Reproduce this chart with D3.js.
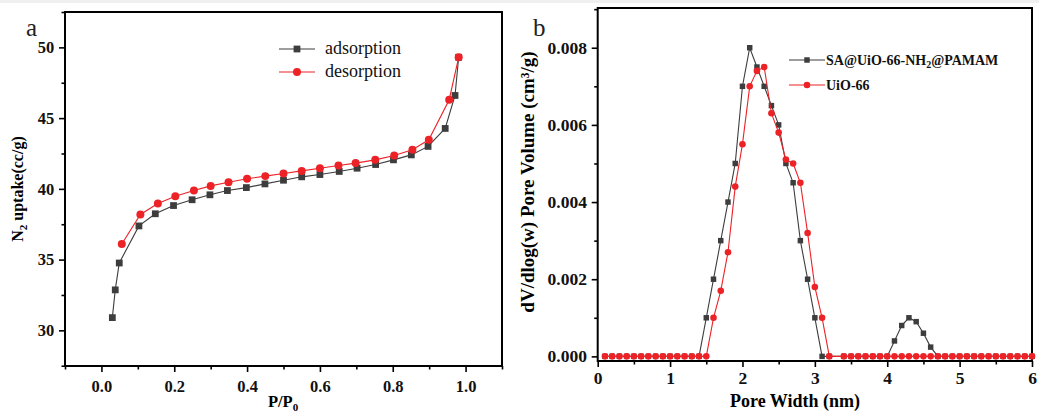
<!DOCTYPE html>
<html>
<head>
<meta charset="utf-8">
<script src="https://d3js.org/d3.v7.min.js"></script>
<style>
  body { margin: 0; background: #fff; }
  svg text { font-family: "Liberation Serif", "Times New Roman", serif; }
</style>
</head>
<body>
<div id="viz"></div>
<script>
// panel a: N2 isotherm
const adsP = [0.030, 0.038, 0.049, 0.103, 0.148, 0.198, 0.249, 0.298, 0.346, 0.398, 0.449, 0.500,
              0.550, 0.600, 0.653, 0.702, 0.753, 0.802, 0.851, 0.897, 0.944, 0.971, 0.981];
const adsV = [30.9, 32.86, 34.76, 37.38, 38.24, 38.82, 39.23, 39.58, 39.88, 40.09, 40.35, 40.61,
              40.85, 41.01, 41.23, 41.46, 41.72, 42.05, 42.4, 43.0, 44.27, 46.6, 49.3];
const desP = [0.981, 0.955, 0.899, 0.854, 0.804, 0.752, 0.698, 0.651, 0.600, 0.550, 0.500, 0.450,
              0.400, 0.349, 0.300, 0.254, 0.203, 0.155, 0.107, 0.056];
const desV = [49.3, 46.3, 43.47, 42.76, 42.36, 42.05, 41.82, 41.65, 41.46, 41.27, 41.08, 40.9,
              40.71, 40.47, 40.21, 39.88, 39.48, 38.97, 38.19, 36.1];
const aXTicks = [0.0, 0.2, 0.4, 0.6, 0.8, 1.0];
const aYTicks = [30, 35, 40, 45, 50];

// panel b: pore size distribution
const poreW = [0.1, 0.2, 0.3, 0.4, 0.5, 0.6, 0.7, 0.8, 0.9, 1.0, 1.1, 1.2, 1.3, 1.4, 1.5, 1.6, 1.7, 1.8, 1.9, 2.0,
               2.1, 2.2, 2.3, 2.4, 2.5, 2.6, 2.7, 2.8, 2.9, 3.0, 3.1, 3.2, 3.4, 3.5, 3.6, 3.7, 3.8, 3.9, 4.0,
               4.1, 4.2, 4.3, 4.4, 4.5, 4.6, 4.7, 4.8, 4.9, 5.0, 5.1, 5.2, 5.3, 5.4, 5.5, 5.6, 5.7, 5.8, 5.9, 6.0];
const saPamam = [0, 0, 0, 0, 0, 0, 0, 0, 0, 0, 0, 0, 0, 0, 0.001, 0.002, 0.003, 0.004, 0.005, 0.007,
                 0.008, 0.0075, 0.007, 0.0065, 0.006, 0.005, 0.0045, 0.003, 0.002, 0.001, 0, 0, 0, 0, 0, 0, 0, 0, 0,
                 0.0004, 0.0008, 0.001, 0.0009, 0.0006, 0.00024, 0, 0, 0, 0, 0, 0, 0, 0, 0, 0, 0, 0, 0, 0];
const uio66 = [0, 0, 0, 0, 0, 0, 0, 0, 0, 0, 0, 0, 0, 0, 0, 0.001, 0.0017, 0.0027, 0.0044, 0.0055,
               0.007, 0.0074, 0.0075, 0.0063, 0.0058, 0.0051, 0.005, 0.0045, 0.0032, 0.0018, 0.001, 0, 0, 0, 0, 0, 0, 0, 0,
               0, 0, 0, 0, 0, 0, 0, 0, 0, 0, 0, 0, 0, 0, 0, 0, 0, 0, 0, 0];
const bXTicks = [0, 1, 2, 3, 4, 5, 6];
const bYTicks = [0, 0.002, 0.004, 0.006, 0.008];

const BLACK = "#3d3d3d", RED = "#ec2227";

const svg = d3.select("#viz").append("svg").attr("width", 1039).attr("height", 416);
svg.append("rect").attr("width", 1039).attr("height", 416).attr("fill", "#fff");
svg.append("rect").attr("width", 1039).attr("height", 3).attr("fill", "#f0f0f0");

function frame(x, y, xTicks, xMinor, yTicks, yMinor, xFmt, yFmt, fs, xdy) {
  const [x0, x1] = x.range(), [y0, y1] = y.range();
  const g = svg.append("g");
  const xa = g.append("g").attr("transform", `translate(0,${y0})`)
    .call(d3.axisBottom(x).tickValues(xTicks).tickFormat(xFmt).tickSize(6).tickSizeOuter(0));
  g.append("g").attr("transform", `translate(0,${y0})`)
    .call(d3.axisBottom(x).tickValues(xMinor).tickFormat("").tickSize(3.5).tickSizeOuter(0));
  const ya = g.append("g").attr("transform", `translate(${x0},0)`)
    .call(d3.axisLeft(y).tickValues(yTicks).tickFormat(yFmt).tickSize(6).tickSizeOuter(0));
  g.append("g").attr("transform", `translate(${x0},0)`)
    .call(d3.axisLeft(y).tickValues(yMinor).tickFormat("").tickSize(3.5).tickSizeOuter(0));
  g.selectAll(".domain").remove();
  g.selectAll(".tick line").attr("stroke", "#000").attr("stroke-width", 1.6);
  g.selectAll(".tick text").attr("fill", "#111").attr("font-weight", "bold")
    .attr("font-family", "Liberation Serif, serif").attr("font-size", fs);
  xa.selectAll(".tick text").attr("dy", xdy);
  ya.selectAll(".tick text").attr("dx", "-0.1em");
  g.append("rect").attr("x", x0).attr("y", y1).attr("width", x1 - x0).attr("height", y0 - y1)
    .attr("fill", "none").attr("stroke", "#000").attr("stroke-width", 2);
  return g;
}

function series(g, x, y, xs, ys, color, shape, size) {
  const pts = xs.map((v, i) => [x(v), y(ys[i])]);
  g.append("path").attr("d", d3.line()(pts)).attr("fill", "none")
    .attr("stroke", color).attr("stroke-width", 1.1);
  const sym = d3.symbol().type(shape === "sq" ? d3.symbolSquare : d3.symbolCircle).size(size);
  g.selectAll(null).data(pts).enter().append("path")
    .attr("d", sym).attr("transform", d => `translate(${d[0]},${d[1]})`).attr("fill", color);
}

function legendItem(x0, y0, label, color, shape, size, bold, fs, tx) {
  svg.append("line").attr("x1", x0).attr("x2", x0 + 36).attr("y1", y0).attr("y2", y0)
    .attr("stroke", color).attr("stroke-width", 1.1);
  const sym = d3.symbol().type(shape === "sq" ? d3.symbolSquare : d3.symbolCircle).size(size);
  svg.append("path").attr("d", sym).attr("transform", `translate(${x0 + 18},${y0})`).attr("fill", color);
  svg.append("text").attr("x", x0 + tx).attr("y", y0 + 5).html(label)
    .attr("font-size", fs).attr("font-weight", bold ? "bold" : "normal").attr("fill", "#111");
}

// ---- panel a
const xa = d3.scaleLinear().domain([-0.1, 1.1]).range([65, 502]);
const ya = d3.scaleLinear().domain([27.48, 52.5]).range([366, 12]);
const ga = frame(xa, ya, aXTicks, [-0.1, 0.1, 0.3, 0.5, 0.7, 0.9, 1.1], aYTicks, [27.5, 32.5, 37.5, 42.5, 47.5, 52.5],
  d3.format(".1f"), d3.format("d"), 16.5, "1.03em");
series(ga, xa, ya, adsP, adsV, BLACK, "sq", 46);
series(ga, xa, ya, desP, desV, RED, "ci", 50);
legendItem(279, 49, "adsorption", BLACK, "sq", 46, false, 18, 46);
legendItem(279, 72, "desorption", RED, "ci", 50, false, 18, 46);
svg.append("text").attr("x", 283).attr("y", 407).attr("text-anchor", "middle")
  .attr("font-weight", "bold").attr("font-size", 16.5)
  .html('P/P<tspan font-size="11" dy="4">0</tspan>');
svg.append("text").attr("transform", "translate(23,189) rotate(-90)").attr("text-anchor", "middle")
  .attr("font-weight", "bold").attr("font-size", 16)
  .html('N<tspan font-size="11" dy="4">2</tspan><tspan dy="-4"> uptake(cc/g)</tspan>');
svg.append("text").attr("x", 26).attr("y", 36).text("a")
  .attr("font-family", "Liberation Sans, Arial, sans-serif").attr("font-size", 25).attr("fill", "#222");

// ---- panel b
const xb = d3.scaleLinear().domain([0, 6]).range([597.7, 1032]);
const yb = d3.scaleLinear().domain([-0.00012, 0.00903]).range([361, 8]);
const gb = frame(xb, yb, bXTicks, [0.5, 1.5, 2.5, 3.5, 4.5, 5.5], bYTicks, [0.001, 0.003, 0.005, 0.007, 0.009],
  d3.format("d"), d3.format(".3f"), 17.5, "0.82em");
series(gb, xb, yb, poreW, saPamam, BLACK, "sq", 30);
series(gb, xb, yb, poreW, uio66, RED, "ci", 34);
legendItem(789, 60, 'SA@UiO-66-NH<tspan font-size="10" dy="3">2</tspan><tspan dy="-3">@PAMAM</tspan>',
  BLACK, "sq", 30, true, 14, 37);
legendItem(789, 85, "UiO-66", RED, "ci", 34, true, 14, 37);
svg.append("text").attr("x", 795).attr("y", 407).attr("text-anchor", "middle")
  .attr("font-weight", "bold").attr("font-size", 18).text("Pore Width (nm)");
svg.append("text").attr("transform", "translate(534,182) rotate(-90)").attr("text-anchor", "middle")
  .attr("font-weight", "bold").attr("font-size", 19).text("dV/dlog(w) Pore Volume (cm³/g)");
svg.append("text").attr("x", 533).attr("y", 36).text("b")
  .attr("font-family", "Liberation Sans, Arial, sans-serif").attr("font-size", 25).attr("fill", "#222");
</script>
</body>
</html>
